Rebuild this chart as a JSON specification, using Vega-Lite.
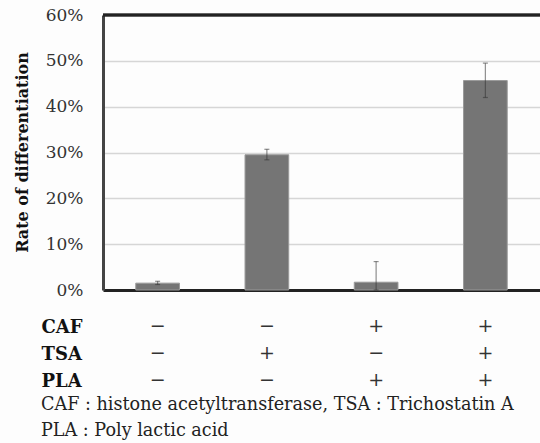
{
  "$schema": "https://vega.github.io/schema/vega-lite/v6.json",
  "autosize": "none",
  "width": 437,
  "height": 275,
  "padding": {"left": 103, "top": 15, "right": 0, "bottom": 153},
  "background": "#fdfdfd",
  "config": {
    "view": {"stroke": null},
    "font": "DejaVu Serif"
  },
  "title": {
    "text": ["CAF : histone acetyltransferase, TSA : Trichostatin A", "PLA : Poly lactic acid"],
    "orient": "bottom",
    "anchor": "start",
    "frame": "group",
    "dx": -62,
    "offset": 6,
    "font": "DejaVu Serif",
    "fontSize": 17.6,
    "fontWeight": "normal",
    "lineHeight": 26,
    "color": "#222"
  },
  "data": {
    "values": [
      {"cond": "−|−|−", "v": 0.015, "lo": 0.012, "hi": 0.019},
      {"cond": "−|+|−", "v": 0.295, "lo": 0.284, "hi": 0.307},
      {"cond": "+|−|+", "v": 0.017, "lo": 0.0, "hi": 0.062},
      {"cond": "+|+|+", "v": 0.457, "lo": 0.42, "hi": 0.495}
    ]
  },
  "encoding": {
    "x": {
      "field": "cond",
      "type": "nominal",
      "sort": null,
      "scale": {"paddingInner": 0.6, "paddingOuter": 0.3},
      "axis": {
        "labelExpr": "split(datum.value, '|')",
        "labelAngle": 0,
        "labelFont": "DejaVu Serif",
        "labelFontSize": 19,
        "labelLineHeight": 27,
        "labelBaseline": "top",
        "labelPadding": 26,
        "labelColor": "#333",
        "ticks": false,
        "domainColor": "#222",
        "domainWidth": 3,
        "title": ["CAF", "TSA", "PLA"],
        "titleFont": "DejaVu Serif",
        "titleFontWeight": "bold",
        "titleFontSize": 18,
        "titleLineHeight": 27,
        "titleAlign": "left",
        "titleAnchor": null,
        "titleBaseline": "top",
        "titleX": -62,
        "titleY": 28,
        "titleColor": "#111"
      }
    }
  },
  "layer": [
    {
      "mark": {"type": "bar", "color": "#757575", "stroke": "#9a9a9a", "strokeWidth": 1},
      "encoding": {
        "y": {
          "field": "v",
          "type": "quantitative",
          "scale": {"domain": [0, 0.6], "nice": false},
          "axis": {
            "values": [0, 0.1, 0.2, 0.3, 0.4, 0.5, 0.6],
            "format": ".0%",
            "labelFont": "DejaVu Serif",
            "labelFontSize": 17,
            "labelColor": "#333",
            "labelPadding": 20,
            "ticks": false,
            "domainColor": "#444",
            "domainWidth": 3,
            "gridColor": "#d6d6d6",
            "gridWidth": 1.5,
            "title": "Rate of differentiation",
            "titleFont": "DejaVu Serif",
            "titleFontSize": 16,
            "titleFontWeight": "bold",
            "titleColor": "#111",
            "titleAngle": -90,
            "titleAlign": "center",
            "titleBaseline": "middle",
            "titleX": -81,
            "titleY": 137
          }
        }
      }
    },
    {
      "mark": {"type": "rule", "color": "#333", "opacity": 0.55, "strokeWidth": 1.2},
      "encoding": {
        "y": {"field": "lo", "type": "quantitative"},
        "y2": {"field": "hi"}
      }
    },
    {
      "mark": {"type": "tick", "color": "#333", "opacity": 0.55, "size": 5, "thickness": 1.2, "orient": "horizontal"},
      "encoding": {
        "y": {"field": "hi", "type": "quantitative"}
      }
    },
    {
      "mark": {"type": "tick", "color": "#333", "opacity": 0.55, "size": 5, "thickness": 1.2, "orient": "horizontal"},
      "encoding": {
        "y": {"field": "lo", "type": "quantitative"}
      }
    },
    {
      "mark": {"type": "rule", "color": "#222", "strokeWidth": 2.5},
      "encoding": {
        "y": {"datum": 0.6},
        "x": {"value": 0},
        "x2": {"value": 437}
      }
    }
  ]
}
